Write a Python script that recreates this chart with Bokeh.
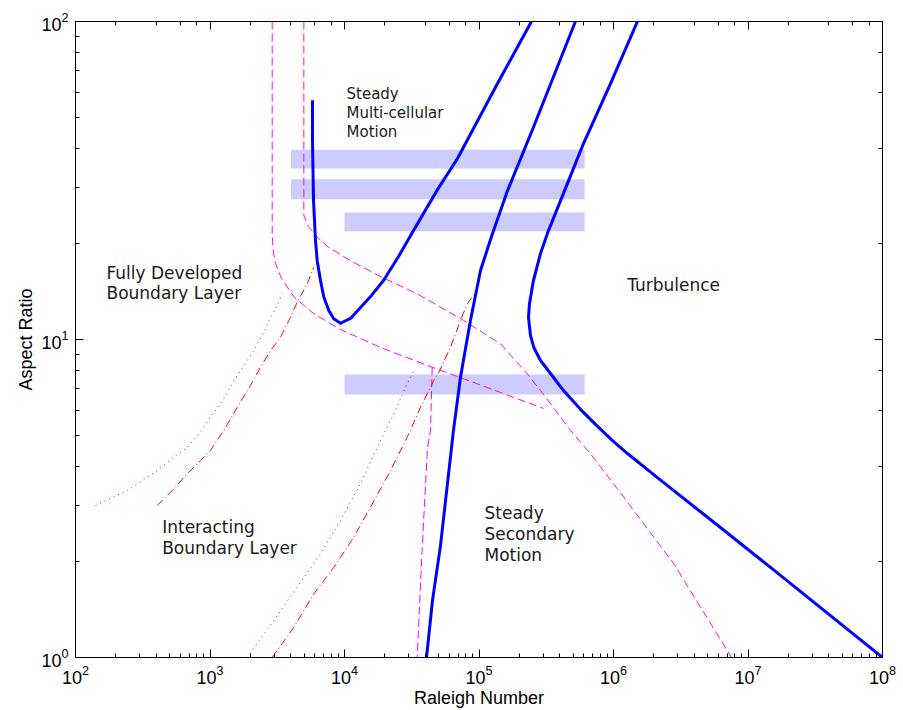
from bokeh.plotting import figure
from bokeh.models import LogAxis, Label
from bokeh.embed import file_html
from bokeh.resources import INLINE

# ---- data ----
# translucent bands
bar_left = [4.0e3, 4.0e3, 1.0e4, 1.0e4]
bar_right = [6.1e5, 6.1e5, 6.1e5, 6.1e5]
bar_bottom = [34.5, 27.6, 21.9, 6.71]
bar_top = [39.5, 31.9, 25.1, 7.76]

# blue stability boundaries
b1_x = [5781, 5781, 5883, 6086, 6266, 6633, 7015, 7640, 8326, 9340, 11080, 13150, 15880,
        19500, 25210, 32600, 49140, 69200, 137300, 245500]
b1_y = [56.5, 42.3, 27.4, 20.5, 17.7, 15.33, 13.6, 12.34, 11.62, 11.25, 11.65, 12.6, 13.76,
        15.33, 18.24, 22.0, 29.6, 37.1, 63.8, 100]

b2_x = [40700, 45100, 51730, 64600, 72800, 86400, 102600, 123900, 163000, 254000, 521000]
b2_y = [1.0, 1.51, 2.25, 5.18, 7.60, 11.48, 16.48, 21.09, 29.4, 46.5, 100]

b3_x = [1.507e6, 9.5e5, 5.98e5, 3.286e5, 2.866e5, 2.54e5, 2.374e5, 2.333e5, 2.415e5, 2.556e5,
        2.866e5, 3.40e5, 4.25e5, 5.68e5, 7.35e5, 9.83e5, 1.27e6, 2.12e6, 5.0e6, 1.47e7, 1.0e8]
b3_y = [100, 63.8, 41.3, 22.0, 18.64, 15.33, 12.98, 11.73, 10.29, 9.44,
        8.59, 7.82, 6.91, 6.03, 5.41, 4.81, 4.38, 3.68, 2.76, 1.92, 1.0]

# magenta dashed boundaries
m1_x = [2900, 2900, 2965, 3068, 3401, 4249, 5883, 9340, 18520, 44870, 77090, 3.017e5]
m1_y = [100, 21.25, 18.79, 17.34, 15.55, 13.55, 12.07, 10.75, 9.44, 8.18, 7.52, 6.07]

m2_x = [44870, 43600, 41400, 37840, 34720]
m2_y = [8.18, 5.18, 4.57, 2.22, 1.0]

m3_x = [4985, 4985, 5399, 6193, 7478, 11080, 18520, 34720, 77090, 1.445e5, 2.282e5, 2.866e5,
        4.79e5, 6.75e5, 1.193e6, 2.81e6, 7.54e6]
m3_y = [100, 24.55, 22.66, 21.09, 19.6, 17.7, 15.77, 13.92, 11.47, 9.69, 7.80, 6.91,
        5.18, 4.37, 3.19, 1.97, 1.0]

# red dotted / dash-dot boundaries
rd1_x = [140.8, 242.3, 405, 538, 677, 850, 1009, 1267, 1503, 1784, 2117, 2512, 2818, 3160, 3442]
rd1_y = [3.006, 3.35, 3.87, 4.27, 4.58, 5.11, 5.70, 6.51, 7.43, 8.28, 9.23, 10.54, 11.75, 12.79, 13.92]

rdd1_x = [405, 538, 677, 850, 1009, 1267, 1593, 2000, 2375, 2818, 3343, 3967, 4447, 5281, 5911]
rdd1_y = [3.006, 3.39, 3.78, 4.16, 4.48, 5.18, 6.12, 7.17, 8.18, 9.23, 10.17, 11.75, 13.1, 14.96, 16.88]

rd2_x = [1891, 2981, 4447, 6632, 9340, 13150, 17500, 23260, 29240, 32770]
rd2_y = [1.0, 1.307, 1.665, 2.12, 2.70, 3.52, 4.58, 5.84, 7.26, 7.99]

rdd2_x = [2900, 4198, 5911, 8326, 11730, 15610, 21980, 29240, 36730, 46120, 50270, 61390,
          72830, 81700, 97000]
rdd2_y = [1.0, 1.245, 1.585, 1.92, 2.39, 2.97, 3.87, 4.93, 6.12, 7.43, 7.88, 9.46,
          11.47, 12.95, 14.26]

# ---- figure ----
p = figure(width=903, height=710, x_axis_type="log", y_axis_type="log",
           x_range=(1e2, 1e8), y_range=(1, 100),
           output_backend="svg", toolbar_location=None,
           min_border_left=75, min_border_top=21, min_border_right=21, min_border_bottom=53,
           x_axis_label="Raleigh Number", y_axis_label="Aspect Ratio")
p.xgrid.visible = False
p.ygrid.visible = False
p.outline_line_color = "black"
p.background_fill_color = "white"
p.border_fill_color = "white"

p.quad(left=bar_left, right=bar_right, bottom=bar_bottom, top=bar_top,
       fill_color="#ccccff", line_color=None)

p.line(m1_x, m1_y, line_color="#ff00ff", line_width=1, line_dash="8 4")
p.line(m2_x, m2_y, line_color="#ff00ff", line_width=1, line_dash="8 4")
p.line(m3_x, m3_y, line_color="#ff00ff", line_width=1, line_dash="8 4")

p.line(rd1_x, rd1_y, line_color="#ff0000", line_width=1, line_dash="1 4")
p.line(rd2_x, rd2_y, line_color="#ff0000", line_width=1, line_dash="1 4")
p.line(rdd1_x, rdd1_y, line_color="#ff0000", line_width=1, line_dash="8 3 1 3")
p.line(rdd2_x, rdd2_y, line_color="#ff0000", line_width=1, line_dash="8 3 1 3")

for bx, by in ((b1_x, b1_y), (b2_x, b2_y), (b3_x, b3_y)):
    p.line(bx, by, line_color="#0000ff", line_width=3, line_join="round")

# ---- axes ----
for ax in (p.xaxis[0], p.yaxis[0]):
    ax.major_tick_in = 8
    ax.major_tick_out = 0
    ax.minor_tick_in = 4
    ax.minor_tick_out = 0
    ax.major_label_text_font = "Liberation Sans"
    ax.major_label_text_font_size = "18px"
    ax.major_label_text_color = "black"
    ax.axis_label_text_font = "Liberation Sans"
    ax.axis_label_text_font_size = "18px"
    ax.axis_label_text_font_style = "normal"
    ax.axis_label_text_color = "black"
    ax.axis_line_color = "black"
    ax.major_tick_line_color = "black"
    ax.minor_tick_line_color = "black"

p.xaxis[0].major_label_standoff = 7
p.xaxis[0].axis_label_standoff = 1
p.yaxis[0].major_label_standoff = 7
p.yaxis[0].axis_label_standoff = 2

for loc in ("above", "right"):
    ax = LogAxis(major_label_text_font_size="1px", major_label_text_alpha=0.0,
                 major_label_standoff=0,
                 major_tick_in=8, major_tick_out=0, minor_tick_in=4, minor_tick_out=0,
                 axis_line_color="black", major_tick_line_color="black",
                 minor_tick_line_color="black")
    p.add_layout(ax, loc)

# ---- region labels ----
def add_lines(x, y, lines, size, step):
    for i, t in enumerate(lines):
        p.add_layout(Label(x=x, y=y, text=t, y_offset=-step * i,
                           text_font="DejaVu Sans", text_font_size=size,
                           text_color="#1a1a1a", text_baseline="middle", text_align="left"))

add_lines(1.035e4, 59.2, ["Steady", "Multi-cellular", "Motion"], "15px", 19)
add_lines(170, 16.2, ["Fully Developed", "Boundary Layer"], "17px", 20.5)
add_lines(441, 2.58, ["Interacting", "Boundary Layer"], "17px", 21)
add_lines(1.099e5, 2.84, ["Steady", "Secondary", "Motion"], "17px", 21)
add_lines(1.264e6, 14.8, ["Turbulence"], "17px", 21)

open("out.html", "w").write(file_html(p, INLINE))
